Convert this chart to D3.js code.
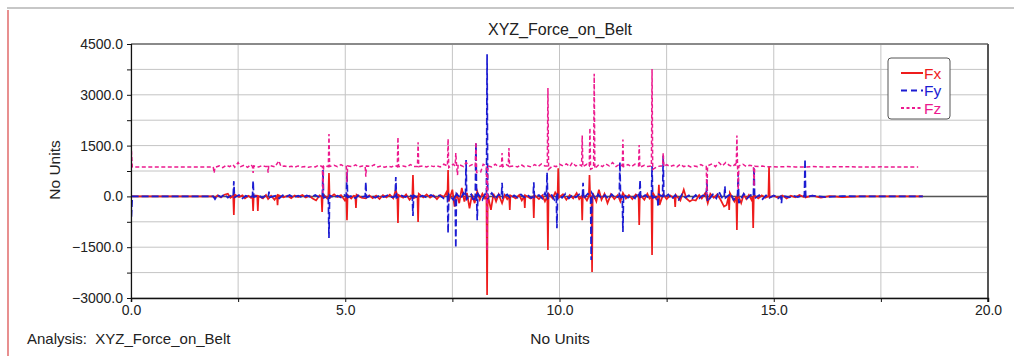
<!DOCTYPE html>
<html>
<head>
<meta charset="utf-8">
<script src="https://cdn.jsdelivr.net/npm/d3@7"></script>
<style>
  body { margin: 0; background: #fff; }
  text { font-family: "Liberation Sans", Arial, sans-serif; fill: #222; }
  .grid line { stroke: #c4c4c4; stroke-width: 1; }
  .axis path, .axis line { stroke: #111; }
  .axis text { font-size: 14px; fill: #222; }
</style>
</head>
<body>
<div id="chart"></div>
<script>
// time (No Units) vs force
var fx = [[0,0],[1.92,0],[1.96,-50],[2.02,30],[2.1,-30],[2.18,50],[2.26,80],[2.32,-40],[2.385,20],[2.4,-550],[2.415,60],[2.52,-20],[2.6,30],[2.66,-60],[2.74,20],[2.8,-40],[2.835,10],[2.85,-430],[2.865,30],[2.945,20],[2.96,-430],[2.975,10],[3.08,-60],[3.15,40],[3.2,-80],[3.27,20],[3.35,-100],[3.405,10],[3.42,-260],[3.435,40],[3.56,-30],[3.65,20],[3.74,-50],[3.82,30],[3.9,-20],[4.0,40],[4.08,-30],[4.16,20],[4.24,-60],[4.32,-120],[4.4,30],[4.445,0],[4.46,-460],[4.475,80],[4.58,-60],[4.605,0],[4.62,690],[4.635,-40],[4.74,60],[4.82,-20],[4.9,40],[4.99,-120],[5.025,0],[5.04,-700],[5.055,40],[5.14,-60],[5.2,20],[5.235,0],[5.25,-340],[5.265,50],[5.38,-40],[5.48,-60],[5.56,30],[5.64,-50],[5.72,20],[5.8,-80],[5.88,40],[5.96,-30],[6.04,50],[6.12,-60],[6.18,200],[6.215,0],[6.23,-785],[6.245,40],[6.35,-40],[6.42,60],[6.5,-100],[6.565,0],[6.58,630],[6.595,-50],[6.685,0],[6.7,-756],[6.715,80],[6.82,-30],[6.9,60],[6.98,-40],[7.06,30],[7.14,-80],[7.22,40],[7.3,-20],[7.36,120],[7.385,0],[7.4,780],[7.415,-150],[7.5,200],[7.55,-300],[7.6,100],[7.66,-200],[7.72,250],[7.78,-150],[7.84,100],[7.9,-350],[7.96,60],[8.02,-200],[8.08,150],[8.14,-100],[8.2,80],[8.26,-60],[8.295,0],[8.31,-2910],[8.325,60],[8.4,-400],[8.46,80],[8.52,-150],[8.58,60],[8.66,-200],[8.72,40],[8.78,-80],[8.825,0],[8.84,-400],[8.855,30],[8.98,-60],[9.06,40],[9.12,-120],[9.175,0],[9.19,-340],[9.205,30],[9.32,-60],[9.385,0],[9.4,-640],[9.415,40],[9.52,-80],[9.6,30],[9.66,-150],[9.715,0],[9.73,-1580],[9.745,80],[9.84,-60],[9.9,120],[9.955,0],[9.97,830],[9.985,-40],[10.08,60],[10.16,-100],[10.24,40],[10.32,-60],[10.4,100],[10.46,-80],[10.515,0],[10.53,-700],[10.545,60],[10.64,-120],[10.685,0],[10.7,630],[10.715,0],[10.745,0],[10.76,-2230],[10.775,100],[10.86,-150],[10.92,200],[10.98,-100],[11.05,80],[11.12,-200],[11.2,60],[11.28,-80],[11.36,40],[11.42,-150],[11.48,100],[11.55,-60],[11.62,40],[11.7,-80],[11.78,60],[11.845,0],[11.86,-845],[11.875,50],[11.98,-100],[12.05,80],[12.1,-60],[12.145,0],[12.16,-1730],[12.175,120],[12.26,-80],[12.305,0],[12.32,340],[12.335,-250],[12.42,60],[12.5,-80],[12.58,30],[12.66,-40],[12.685,0],[12.7,-310],[12.715,40],[12.82,-120],[12.9,200],[12.96,-60],[13.04,-150],[13.1,-100],[13.18,-120],[13.26,40],[13.32,-60],[13.4,100],[13.46,-200],[13.52,80],[13.6,-40],[13.68,60],[13.76,-100],[13.84,-300],[13.9,-250],[13.945,0],[13.96,-400],[13.975,100],[14.08,-150],[14.125,0],[14.14,-990],[14.155,80],[14.24,-200],[14.3,60],[14.36,-80],[14.42,40],[14.48,-100],[14.505,0],[14.52,-930],[14.535,40],[14.64,-60],[14.72,30],[14.8,-40],[14.875,0],[14.89,870],[14.905,-30],[15.0,20],[15.1,-40],[15.2,30],[15.3,-60],[15.4,20],[15.5,-30],[15.6,40],[15.7,-20],[15.715,0],[15.73,100],[15.745,-30],[15.9,20],[16.1,-40],[16.3,10],[16.6,-20],[17.0,0],[18.48,0]];

var fy = [[0,0],[0.01,-600],[0.03,0],[1.92,0],[1.96,-80],[2.02,40],[2.1,-20],[2.18,60],[2.26,-40],[2.34,30],[2.385,0],[2.4,450],[2.415,-30],[2.52,40],[2.6,-60],[2.68,20],[2.76,-30],[2.835,0],[2.85,455],[2.865,-20],[2.98,30],[3.06,-40],[3.14,20],[3.205,0],[3.22,140],[3.235,-30],[3.38,20],[3.46,-60],[3.54,30],[3.62,-20],[3.7,40],[3.8,-30],[3.9,20],[4.0,-40],[4.1,30],[4.2,-20],[4.3,40],[4.4,-30],[4.465,0],[4.48,780],[4.495,-40],[4.605,0],[4.62,-1230],[4.635,30],[4.74,-40],[4.82,20],[4.9,-30],[4.98,40],[5.025,0],[5.04,720],[5.055,-30],[5.16,20],[5.24,-60],[5.3,30],[5.38,-20],[5.465,0],[5.48,425],[5.495,-30],[5.6,20],[5.7,-40],[5.8,30],[5.9,-20],[6.0,40],[6.1,-30],[6.165,0],[6.18,570],[6.195,-40],[6.3,30],[6.4,-20],[6.5,40],[6.565,0],[6.58,-580],[6.595,30],[6.7,-40],[6.8,20],[6.9,-30],[7.0,40],[7.1,-20],[7.2,30],[7.3,-60],[7.385,0],[7.4,-1080],[7.415,60],[7.52,-100],[7.565,0],[7.58,-1520],[7.595,80],[7.7,-60],[7.76,100],[7.805,0],[7.82,1075],[7.835,-80],[7.94,60],[8.0,-150],[8.035,0],[8.05,1600],[8.065,0],[8.08,-700],[8.095,80],[8.2,-100],[8.26,60],[8.295,0],[8.31,4200],[8.325,-60],[8.42,100],[8.5,-80],[8.58,60],[8.645,0],[8.66,400],[8.675,-40],[8.78,60],[8.86,-60],[8.94,30],[9.02,-40],[9.1,60],[9.18,-30],[9.26,40],[9.34,-50],[9.385,0],[9.4,420],[9.415,-30],[9.52,40],[9.6,-60],[9.66,100],[9.695,0],[9.71,700],[9.725,-60],[9.82,40],[9.88,-100],[9.925,0],[9.94,-940],[9.955,60],[10.06,-40],[10.14,80],[10.22,-60],[10.3,40],[10.38,-30],[10.46,60],[10.535,0],[10.55,400],[10.565,-60],[10.66,80],[10.725,0],[10.74,-1880],[10.755,100],[10.84,-80],[10.9,60],[10.98,-60],[11.06,40],[11.14,-80],[11.22,60],[11.3,-40],[11.395,0],[11.41,1015],[11.425,-40],[11.465,0],[11.48,-1050],[11.495,60],[11.6,-40],[11.68,30],[11.76,-60],[11.82,100],[11.865,0],[11.88,480],[11.895,-60],[12.0,40],[12.08,-40],[12.145,0],[12.16,900],[12.175,-40],[12.285,0],[12.3,-310],[12.315,60],[12.405,0],[12.42,1200],[12.435,-40],[12.54,60],[12.62,-80],[12.7,40],[12.78,-100],[12.86,60],[12.94,-40],[13.02,30],[13.1,-60],[13.18,40],[13.26,-60],[13.34,30],[13.425,0],[13.44,500],[13.455,-150],[13.58,60],[13.66,-60],[13.72,150],[13.8,-60],[13.845,0],[13.86,300],[13.875,-40],[14.0,80],[14.06,-100],[14.155,0],[14.17,700],[14.185,-200],[14.3,80],[14.38,-60],[14.46,40],[14.525,0],[14.54,870],[14.555,-60],[14.66,40],[14.74,-80],[14.82,30],[14.9,-40],[15.0,30],[15.1,-60],[15.165,0],[15.18,-200],[15.195,20],[15.36,-30],[15.46,20],[15.56,-20],[15.66,30],[15.715,0],[15.73,1100],[15.745,-20],[15.9,20],[16.2,-20],[16.6,10],[17.0,0],[18.48,0]];

var fz = [[0,0],[0.01,1350],[0.03,870],[1.92,870],[1.94,690],[1.96,860],[2.06,900],[2.14,850],[2.22,920],[2.3,880],[2.38,940],[2.42,860],[2.5,1000],[2.56,880],[2.64,920],[2.72,860],[2.8,940],[2.835,880],[2.85,690],[2.865,900],[2.98,870],[3.06,910],[3.14,880],[3.185,880],[3.2,700],[3.215,920],[3.36,870],[3.45,1050],[3.5,880],[3.58,900],[3.66,870],[3.74,890],[3.82,860],[3.9,900],[3.98,870],[4.06,880],[4.14,860],[4.22,880],[4.3,870],[4.38,920],[4.465,880],[4.48,100],[4.495,900],[4.605,880],[4.62,1840],[4.635,880],[4.74,920],[4.82,880],[4.9,940],[4.98,880],[5.025,880],[5.04,420],[5.055,900],[5.16,880],[5.24,930],[5.32,870],[5.4,900],[5.465,880],[5.48,580],[5.495,900],[5.6,880],[5.68,940],[5.76,870],[5.84,900],[5.92,860],[6.0,890],[6.08,870],[6.16,920],[6.215,880],[6.23,1750],[6.245,880],[6.35,900],[6.44,870],[6.52,940],[6.6,880],[6.685,880],[6.7,1600],[6.715,880],[6.82,900],[6.9,870],[6.98,910],[7.06,880],[7.14,900],[7.22,870],[7.3,950],[7.385,900],[7.4,1700],[7.415,850],[7.52,950],[7.565,900],[7.58,1280],[7.6,880],[7.62,630],[7.635,950],[7.76,880],[7.82,1000],[7.9,900],[7.98,950],[8.035,900],[8.05,1600],[8.065,700],[8.16,720],[8.22,950],[8.295,900],[8.31,-1600],[8.325,900],[8.42,870],[8.5,950],[8.58,880],[8.645,900],[8.66,1280],[8.675,880],[8.76,940],[8.805,900],[8.82,1430],[8.835,880],[8.94,900],[9.02,870],[9.1,940],[9.18,880],[9.26,900],[9.34,870],[9.42,940],[9.5,880],[9.58,960],[9.66,900],[9.715,900],[9.73,3200],[9.745,800],[9.84,900],[9.92,880],[10.0,950],[10.08,900],[10.16,960],[10.24,880],[10.3,1000],[10.38,900],[10.46,940],[10.515,900],[10.53,1800],[10.545,880],[10.64,950],[10.695,900],[10.71,2020],[10.725,800],[10.795,850],[10.81,3620],[10.825,820],[10.92,940],[11.0,880],[11.08,960],[11.16,900],[11.24,1000],[11.32,880],[11.4,950],[11.465,900],[11.48,1680],[11.495,880],[11.6,940],[11.68,880],[11.76,950],[11.845,900],[11.86,1520],[11.875,860],[11.98,920],[12.06,880],[12.145,900],[12.16,3760],[12.175,800],[12.28,880],[12.36,900],[12.405,900],[12.42,1280],[12.435,880],[12.5,940],[12.58,880],[12.66,920],[12.74,870],[12.82,950],[12.9,880],[12.98,920],[13.06,870],[13.14,900],[13.22,880],[13.3,940],[13.38,880],[13.425,880],[13.44,50],[13.455,900],[13.56,960],[13.64,880],[13.72,1000],[13.8,900],[13.88,1000],[13.96,920],[14.04,880],[14.1,950],[14.125,900],[14.14,1800],[14.155,900],[14.17,200],[14.185,900],[14.28,950],[14.36,880],[14.44,920],[14.525,900],[14.54,300],[14.555,890],[14.66,880],[14.74,900],[14.82,870],[14.96,880],[15.1,870],[15.3,880],[15.5,870],[15.73,870],[15.9,880],[16.2,870],[16.6,875],[17.0,870],[17.5,872],[18.0,870],[18.37,870]];

var seriesNames = ["Fx", "Fy", "Fz"];
var seriesData = [fx, fy, fz];
var seriesColors = ["#ee1c1c", "#1c1cd2", "#ec1a8e"];
var seriesDash = [null, "7,3", "4,2.5"];

var yTicks = [-3000, -2250, -1500, -750, 0, 750, 1500, 2250, 3000, 3750, 4500];
var xTicks = [0, 2.5, 5, 7.5, 10, 12.5, 15, 17.5, 20];

var canvas_width = 1014,
    canvas_height = 356;

var svg = d3.select("#chart")
    .append("svg")
    .attr("width", canvas_width)
    .attr("height", canvas_height);

var xScale = d3.scaleLinear().domain([0, 20]).range([131, 988]);
var yScale = d3.scaleLinear().domain([-3000, 4500]).range([298, 44]);

// outer frame bits
svg.append("line")
    .attr("x1", 7).attr("x2", 1014).attr("y1", 8).attr("y2", 8)
    .attr("stroke", "#b5b5b5").attr("stroke-width", 1.5);
svg.append("line")
    .attr("x1", 8).attr("x2", 8).attr("y1", 10).attr("y2", 356)
    .attr("stroke", "#d94545").attr("stroke-width", 1.2);

// grid
var grid = svg.append("g").attr("class", "grid");
grid.selectAll(".hg")
    .data(yTicks)
    .enter()
    .append("line")
    .attr("x1", xScale(0)).attr("x2", xScale(20))
    .attr("y1", d => yScale(d)).attr("y2", d => yScale(d));
grid.selectAll(".vg")
    .data(xTicks)
    .enter()
    .append("line")
    .attr("x1", d => xScale(d)).attr("x2", d => xScale(d))
    .attr("y1", yScale(4500)).attr("y2", yScale(-3000));

// top and right frame
svg.append("line")
    .attr("x1", xScale(0)).attr("x2", xScale(20))
    .attr("y1", yScale(4500)).attr("y2", yScale(4500))
    .attr("stroke", "#8a8a8a").attr("stroke-width", 2);
svg.append("line")
    .attr("x1", xScale(20)).attr("x2", xScale(20))
    .attr("y1", yScale(4500)).attr("y2", yScale(-3000) + 4)
    .attr("stroke", "#555").attr("stroke-width", 2);

// zero line
svg.append("line")
    .attr("x1", xScale(0)).attr("x2", xScale(20))
    .attr("y1", yScale(0)).attr("y2", yScale(0))
    .attr("stroke", "#555").attr("stroke-width", 1.5);

svg.append("clipPath").attr("id", "plot-clip")
    .append("rect")
    .attr("x", xScale(0)).attr("y", yScale(4500))
    .attr("width", xScale(20) - xScale(0))
    .attr("height", yScale(-3000) - yScale(4500));

var line = d3.line()
    .x(d => xScale(d[0]))
    .y(d => yScale(d[1]));

svg.append("g")
    .attr("clip-path", "url(#plot-clip)")
    .selectAll(".series")
    .data(seriesData)
    .enter()
    .append("path")
    .attr("fill", "none")
    .attr("stroke", (d, i) => seriesColors[i])
    .attr("stroke-width", (d, i) => i == 2 ? 1.5 : 1.7)
    .attr("stroke-dasharray", (d, i) => seriesDash[i])
    .attr("d", d => line(d));

// axes
var yAxis = svg.append("g")
    .attr("class", "axis")
    .attr("transform", "translate(" + xScale(0) + ",0)")
    .call(d3.axisLeft(yScale)
        .tickValues(yTicks)
        .tickSize(4)
        .tickPadding(4)
        .tickFormat(d => d % 1500 == 0 ? d3.format(".1f")(d) : ""));

var xAxis = svg.append("g")
    .attr("class", "axis")
    .attr("transform", "translate(0," + yScale(-3000) + ")")
    .call(d3.axisBottom(xScale)
        .tickValues(xTicks)
        .tickSize(4)
        .tickPadding(3)
        .tickFormat(d => d % 5 == 0 ? d3.format(".1f")(d) : ""));
xAxis.select(".domain").attr("stroke-width", 1.5);
yAxis.select(".domain").attr("stroke-width", 1.2);

// titles
svg.append("text")
    .attr("x", 560).attr("y", 35)
    .attr("text-anchor", "middle")
    .style("font-size", "16px")
    .text("XYZ_Force_on_Belt");

svg.append("text")
    .attr("transform", "translate(60,170) rotate(-90)")
    .attr("text-anchor", "middle")
    .style("font-size", "15.5px")
    .text("No Units");

svg.append("text")
    .attr("x", 560).attr("y", 344)
    .attr("text-anchor", "middle")
    .style("font-size", "15.5px")
    .text("No Units");

svg.append("text")
    .attr("x", 27).attr("y", 344)
    .style("font-size", "15px")
    .style("white-space", "pre")
    .text("Analysis:  XYZ_Force_on_Belt");

// legend
var legend = svg.append("g").attr("transform", "translate(888,58)");
legend.append("rect")
    .attr("width", 62).attr("height", 61)
    .attr("rx", 3)
    .attr("fill", "#fff")
    .attr("stroke", "#555")
    .attr("stroke-width", 1);

var rows = legend.selectAll(".row")
    .data(seriesNames)
    .enter()
    .append("g")
    .attr("transform", (d, i) => "translate(0," + (15 + i * 17.5) + ")");
rows.append("line")
    .attr("x1", 13).attr("x2", 35)
    .attr("y1", 0).attr("y2", 0)
    .attr("stroke", (d, i) => seriesColors[i])
    .attr("stroke-width", 2)
    .attr("stroke-dasharray", (d, i) => i == 0 ? null : (i == 1 ? "6,4" : "3,2.5"));
rows.append("text")
    .attr("x", 36).attr("y", 5.5)
    .style("font-size", "15.5px")
    .style("fill", (d, i) => seriesColors[i])
    .text(d => d);
</script>
</body>
</html>
